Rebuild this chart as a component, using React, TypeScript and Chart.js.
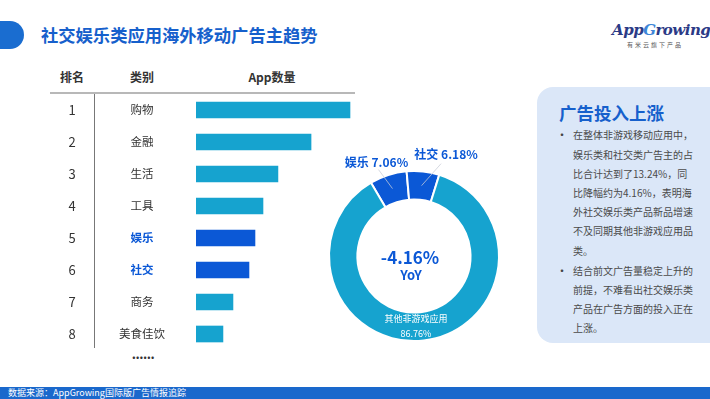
import React, { useEffect, useRef } from "react";
import { Chart, registerables } from "chart.js";
Chart.register(...registerables);

const ranks = [1, 2, 3, 4, 5, 6, 7, 8];
const categories = ["购物", "金融", "生活", "工具", "娱乐", "社交", "商务", "美食佳饮"];
const appCountIndex = [100, 74.7, 53.2, 43.5, 38.3, 34.4, 24, 17.5];
const highlighted = ["娱乐", "社交"];
const shareLabels = ["娱乐", "社交", "其他非游戏应用"];
const shareValues = [7.06, 6.18, 86.76];
const yoyChange = "-4.16%";

const bullet1 = [
  "在整体非游戏移动应用中，",
  "娱乐类和社交类广告主的占",
  "比合计达到了13.24%，同",
  "比降幅约为4.16%，表明海",
  "外社交娱乐类产品新品增速",
  "不及同期其他非游戏应用品",
  "类。",
];
const bullet2 = [
  "结合前文广告量稳定上升的",
  "前提，不难看出社交娱乐类",
  "产品在广告方面的投入正在",
  "上涨。",
];

const TEAL = "#16a3cf";
const BLUE = "#0b58d6";
const TITLE_BLUE = "#1660cc";
const FONT = '"Noto Sans CJK SC", "Noto Sans", sans-serif';

function BarChart() {
  const ref = useRef<HTMLCanvasElement | null>(null);
  useEffect(() => {
    if (!ref.current) return;
    const rowLabels = {
      id: "rowLabels",
      afterDraw(chart: any) {
        const ctx = chart.ctx;
        const ys = chart.scales.y;
        ctx.save();
        ctx.textAlign = "center";
        ctx.textBaseline = "middle";
        categories.forEach((c, i) => {
          const y = ys.getPixelForValue(i);
          ctx.fillStyle = "#333";
          ctx.font = `13px ${FONT}`;
          ctx.fillText(String(ranks[i]), 22, y);
          const hl = highlighted.includes(c);
          ctx.fillStyle = hl ? BLUE : "#333";
          ctx.font = `${hl ? "bold " : ""}11.5px ${FONT}`;
          ctx.fillText(c, 92, y);
        });
        ctx.restore();
      },
    };
    const chart = new Chart(ref.current, {
      type: "bar",
      data: {
        labels: categories,
        datasets: [
          {
            data: appCountIndex,
            backgroundColor: categories.map((c) => (highlighted.includes(c) ? BLUE : TEAL)),
            barThickness: 16,
            borderWidth: 0,
          },
        ],
      },
      options: {
        indexAxis: "y",
        responsive: false,
        animation: false,
        layout: { padding: { left: 146, right: 0, top: 0, bottom: 0 } },
        plugins: { legend: { display: false }, tooltip: { enabled: false } },
        scales: {
          x: { display: false, min: 0, max: 106.5 },
          y: { display: false },
        },
      },
      plugins: [rowLabels],
    } as any);
    return () => chart.destroy();
  }, []);
  return (
    <canvas
      ref={ref}
      width={310}
      height={256}
      style={{ position: "absolute", left: 50, top: 94, width: 310, height: 256 }}
    />
  );
}

function DonutChart() {
  const ref = useRef<HTMLCanvasElement | null>(null);
  useEffect(() => {
    if (!ref.current) return;
    const labelOffsets = [
      { line: [-14, -19], text: [-16, -26] },
      { line: [19.5, -22], text: [24.5, -31] },
    ];
    const donutLabels = {
      id: "donutLabels",
      afterDraw(chart: any) {
        const ctx = chart.ctx;
        const arcs = chart.getDatasetMeta(0).data;
        ctx.save();
        ctx.textAlign = "center";
        ctx.textBaseline = "middle";
        let cx = 0, cy = 0, rMid = 0;
        arcs.forEach((a: any, i: number) => {
          const p = a.getProps(["x", "y", "startAngle", "endAngle", "innerRadius", "outerRadius"], true);
          const mid = (p.startAngle + p.endAngle) / 2;
          const r = (p.innerRadius + p.outerRadius) / 2;
          cx = p.x; cy = p.y; rMid = r;
          if (i < 2) {
            const px = p.x + r * Math.cos(mid);
            const py = p.y + r * Math.sin(mid);
            const o = labelOffsets[i];
            ctx.strokeStyle = "rgba(200,205,215,0.95)";
            ctx.lineWidth = 0.8;
            ctx.beginPath();
            ctx.moveTo(px + o.line[0], py + o.line[1]);
            ctx.lineTo(px, py);
            ctx.stroke();
            ctx.fillStyle = BLUE;
            ctx.font = `bold 12px ${FONT}`;
            ctx.fillText(`${shareLabels[i]} ${shareValues[i].toFixed(2)}%`, px + o.text[0], py + o.text[1]);
          }
        });
        ctx.fillStyle = "#ffffff";
        ctx.font = `9px ${FONT}`;
        ctx.fillText(shareLabels[2], cx + 2, cy + rMid - 8);
        ctx.fillText(`${shareValues[2].toFixed(2)}%`, cx + 2, cy + rMid + 7);
        ctx.fillStyle = BLUE;
        ctx.font = `bold 17px ${FONT}`;
        ctx.fillText(yoyChange, cx - 4, cy + 2);
        ctx.font = `bold 13px ${FONT}`;
        ctx.fillText("YoY", cx - 3, cy + 19);
        ctx.restore();
      },
    };
    const chart = new Chart(ref.current, {
      type: "doughnut",
      data: {
        labels: shareLabels,
        datasets: [
          {
            data: shareValues,
            backgroundColor: [BLUE, BLUE, TEAL],
            borderColor: "#ffffff",
            borderWidth: 2,
          },
        ],
      },
      options: {
        responsive: false,
        animation: false,
        rotation: -30.4,
        cutout: "66.5%",
        layout: { padding: { left: 10, right: 10, top: 29, bottom: 4 } },
        plugins: { legend: { display: false }, tooltip: { enabled: false } },
      },
      plugins: [donutLabels],
    } as any);
    return () => chart.destroy();
  }, []);
  return (
    <canvas
      ref={ref}
      width={192}
      height={205}
      style={{ position: "absolute", left: 318, top: 141, width: 192, height: 205 }}
    />
  );
}

export default function App() {
  const abs = (s: React.CSSProperties): React.CSSProperties => ({ position: "absolute", ...s });
  return (
    <div
      style={{
        position: "fixed",
        left: 0,
        top: 0,
        width: 710,
        height: 399,
        background: "#ffffff",
        overflow: "hidden",
        fontFamily: FONT,
      }}
    >
      <div style={abs({ left: -14, top: 21, width: 38, height: 28, borderRadius: 14, background: "#1a6dd0" })} />
      <div
        style={abs({
          left: 41,
          top: 24,
          height: 22,
          lineHeight: "22px",
          fontSize: 17.3,
          fontWeight: 700,
          color: TITLE_BLUE,
          whiteSpace: "nowrap",
        })}
      >
        社交娱乐类应用海外移动广告主趋势
      </div>
      <div
        style={abs({
          left: 612,
          top: 19,
          width: 86,
          textAlign: "center",
          fontFamily: '"DejaVu Serif", serif',
          fontStyle: "italic",
          fontWeight: 700,
          fontSize: 15,
          lineHeight: "22px",
          color: "#2b3a86",
          letterSpacing: -0.5,
          whiteSpace: "nowrap",
        })}
      >
        App<span style={{ color: "#3d86d8" }}>G</span>rowing
      </div>
      <div
        style={abs({
          left: 612,
          top: 40,
          width: 86,
          textAlign: "center",
          fontSize: 6,
          lineHeight: "9px",
          color: "#555",
          letterSpacing: 2,
          whiteSpace: "nowrap",
        })}
      >
        有米云旗下产品
      </div>

      <div style={abs({ left: 52, top: 67, width: 40, textAlign: "center", fontSize: 12, fontWeight: 700, color: "#333", lineHeight: "20px" })}>排名</div>
      <div style={abs({ left: 122, top: 67, width: 40, textAlign: "center", fontSize: 12, fontWeight: 700, color: "#333", lineHeight: "20px" })}>类别</div>
      <div style={abs({ left: 232, top: 67, width: 80, textAlign: "center", fontSize: 12, fontWeight: 700, color: "#333", lineHeight: "20px" })}>App数量</div>
      <div style={abs({ left: 50, top: 92, width: 305, height: 2, background: "#b8b8b8" })} />
      <div style={abs({ left: 94, top: 94, width: 1, height: 254, background: "#777" })} />
      <div style={abs({ left: 126, top: 346, width: 34, textAlign: "center", fontSize: 13, fontWeight: 700, color: "#333", lineHeight: "16px", letterSpacing: -0.5 })}>......</div>

      <BarChart />
      <DonutChart />

      <div style={abs({ left: 537, top: 87, width: 200, height: 256, borderRadius: 16, background: "#dbe7f8" })} />
      <div style={abs({ left: 559, top: 100, fontSize: 17.5, fontWeight: 700, color: TITLE_BLUE, lineHeight: "26px", whiteSpace: "nowrap" })}>
        广告投入上涨
      </div>
      {[{ lines: bullet1, top: 125.4 }, { lines: bullet2, top: 260.8 }].map((b, bi) => (
        <div key={bi}>
          <div style={abs({ left: 556, top: b.top, width: 8, fontSize: 12, lineHeight: "19.2px", color: "#444" })}>•</div>
          {b.lines.map((l, li) => (
            <div
              key={li}
              style={abs({
                left: 573,
                top: b.top + li * 19.2,
                fontSize: 10,
                lineHeight: "19.2px",
                color: "#4a4a4a",
                whiteSpace: "nowrap",
              })}
            >
              {l}
            </div>
          ))}
        </div>
      ))}

      <div style={abs({ left: 0, top: 387, width: 710, height: 12, background: "#1a68cc" })} />
      <div style={abs({ left: 8, top: 386, fontSize: 9, lineHeight: "14px", color: "#ffffff", whiteSpace: "nowrap" })}>
        数据来源：AppGrowing国际版广告情报追踪
      </div>
    </div>
  );
}
